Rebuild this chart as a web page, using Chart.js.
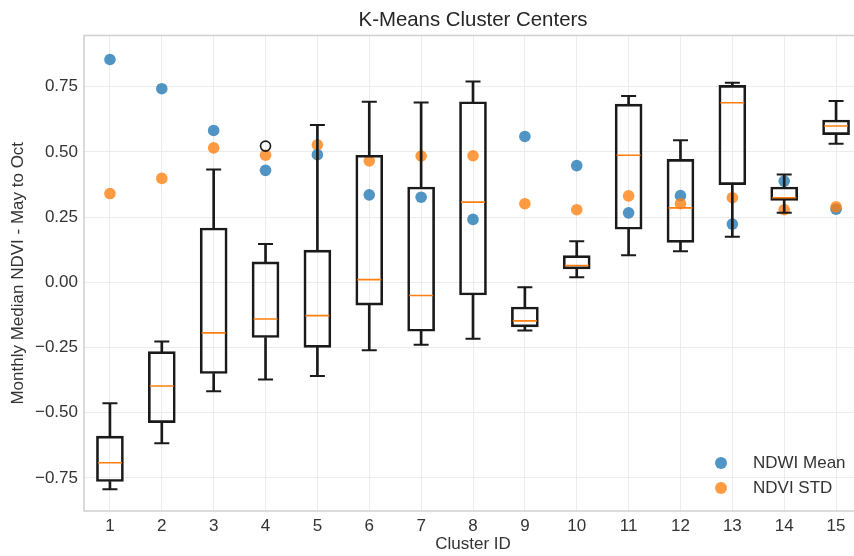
<!DOCTYPE html>
<html>
<head>
<meta charset="utf-8">
<title>K-Means Cluster Centers</title>
<script src="https://cdn.jsdelivr.net/npm/chart.js@4.4.1/dist/chart.umd.min.js"></script>
<style>
  html, body { margin: 0; padding: 0; background: #fff; overflow: hidden; }
  #cluster-chart { display: block; }
</style>
</head>
<body>
<canvas id="cluster-chart" width="870" height="556"></canvas>
<script>
  // cluster ids and y tick values
  var clusterIds = [1, 2, 3, 4, 5, 6, 7, 8, 9, 10, 11, 12, 13, 14, 15];
  var yTickValues = [-0.75, -0.5, -0.25, 0, 0.25, 0.5, 0.75];

  // cluster center points
  var ndwiMean = [0.854, 0.742, 0.582, 0.429, 0.489, 0.335, 0.326, 0.241, 0.559, 0.447, 0.266, 0.332, 0.223, 0.388, 0.280];
  var ndviStd  = [0.340, 0.398, 0.515, 0.487, 0.527, 0.465, 0.484, 0.485, 0.301, 0.278, 0.331, 0.301, 0.324, 0.278, 0.289];

  // box plot stats of monthly median NDVI
  var whiskerLow  = [-0.794, -0.617, -0.418, -0.373, -0.359, -0.261, -0.240, -0.217, -0.185, 0.019, 0.103, 0.119, 0.174, 0.266, 0.531];
  var q1          = [-0.764, -0.538, -0.350, -0.212, -0.250, -0.088, -0.188, -0.049, -0.171, 0.051, 0.203, 0.153, 0.374, 0.314, 0.566];
  var median      = [-0.692, -0.398, -0.194, -0.141, -0.128, 0.010, -0.051, 0.307, -0.148, 0.064, 0.487, 0.285, 0.688, 0.324, 0.599];
  var q3          = [-0.590, -0.266, 0.208, 0.078, 0.123, 0.487, 0.365, 0.692, -0.095, 0.102, 0.683, 0.471, 0.755, 0.365, 0.622];
  var whiskerHigh = [-0.464, -0.227, 0.432, 0.147, 0.603, 0.692, 0.689, 0.770, -0.019, 0.157, 0.714, 0.544, 0.765, 0.413, 0.695];

  // fliers
  var outlierCluster = [4];
  var outlierValue = [0.522];

  var legendLabels = ['NDWI Mean', 'NDVI STD'];

  var BLUE = 'rgba(31, 119, 180, 0.78)';
  var ORANGE = 'rgba(255, 127, 14, 0.78)';
  var INK = '#1a1a1a';
  var TEXT = '#333333';
  var FONT = "'Liberation Sans', Arial, sans-serif";

  function points(xs, ys) {
    return xs.map(function (x, i) { return { x: x, y: ys[i] }; });
  }
  function spans(lo, hi) {
    return clusterIds.map(function (x, i) { return { x: x, y: [lo[i], hi[i]] }; });
  }
  function fmt(v) {
    return v.toFixed(2).replace('-', '\u2212');
  }

  // frame round the plot area
  var frame = {
    id: 'frame',
    afterDatasetsDraw: function (chart) {
      var a = chart.chartArea, ctx = chart.ctx;
      ctx.save();
      ctx.strokeStyle = '#d2d2d2';
      ctx.lineWidth = 1.6;
      ctx.strokeRect(a.left, a.top, a.right - a.left, a.bottom - a.top);
      ctx.restore();
    }
  };

  // legend in the lower right corner
  var cornerLegend = {
    id: 'cornerLegend',
    afterDraw: function (chart) {
      var a = chart.chartArea, ctx = chart.ctx;
      ctx.save();
      ctx.font = '17px ' + FONT;
      ctx.textBaseline = 'middle';
      chart.data.datasets.forEach(function (ds) {
        var i = legendLabels.indexOf(ds.label);
        if (i < 0) return;
        var y = a.bottom - 48 + i * 25;
        ctx.beginPath();
        ctx.fillStyle = ds.backgroundColor;
        ctx.arc(a.right - 141, y, 6, 0, Math.PI * 2);
        ctx.fill();
        ctx.fillStyle = TEXT;
        ctx.fillText(ds.label, a.right - 109, y);
      });
      ctx.restore();
    }
  };

  Chart.defaults.font.family = FONT;
  Chart.defaults.font.size = 17;
  Chart.defaults.color = TEXT;

  var boxBar = { grouped: false, barPercentage: 1, categoryPercentage: 1 };

  new Chart(document.getElementById('cluster-chart').getContext('2d'), {
    type: 'bar',
    data: {
      datasets: [
        {
          type: 'scatter', label: 'NDWI Mean', data: points(clusterIds, ndwiMean),
          backgroundColor: BLUE, borderWidth: 0, pointRadius: 5.8, order: 10
        },
        {
          type: 'scatter', label: 'NDVI STD', data: points(clusterIds, ndviStd),
          backgroundColor: ORANGE, borderWidth: 0, pointRadius: 5.8, order: 9
        },
        Object.assign({
          label: 'box', data: spans(q1, q3), backgroundColor: 'rgba(0,0,0,0)',
          borderColor: INK, borderWidth: 2, borderSkipped: false, maxBarThickness: 27, order: 3
        }, boxBar),
        Object.assign({
          label: 'upper whisker', data: spans(q3, whiskerHigh), backgroundColor: INK,
          borderWidth: 0, maxBarThickness: 2, order: 4
        }, boxBar),
        Object.assign({
          label: 'lower whisker', data: spans(whiskerLow, q1), backgroundColor: INK,
          borderWidth: 0, maxBarThickness: 2, order: 4
        }, boxBar),
        {
          type: 'scatter', label: 'caps',
          data: points(clusterIds, whiskerHigh).concat(points(clusterIds, whiskerLow)),
          pointStyle: 'line', pointRadius: 7.5, borderColor: INK, borderWidth: 2, order: 2
        },
        {
          type: 'scatter', label: 'median', data: points(clusterIds, median),
          pointStyle: 'line', pointRadius: 12, borderColor: '#ff7f0e', borderWidth: 1.6, order: 1
        },
        {
          type: 'scatter', label: 'outliers', data: points(outlierCluster, outlierValue),
          pointStyle: 'circle', pointRadius: 5, backgroundColor: 'rgba(0,0,0,0)',
          borderColor: INK, borderWidth: 1.6, order: 0
        }
      ]
    },
    options: {
      responsive: false,
      animation: false,
      events: [],
      layout: { autoPadding: false, padding: { left: 0, right: 8, top: 0, bottom: 0 } },
      plugins: {
        legend: { display: false },
        tooltip: { enabled: false },
        title: {
          display: true,
          text: 'K-Means Cluster Centers',
          fullSize: false,
          color: '#262626',
          font: { size: 20.4, weight: 'normal' },
          padding: { top: 8, bottom: 3 }
        }
      },
      scales: {
        x: {
          type: 'linear',
          min: 0.5,
          max: 15.5,
          offset: false,
          afterBuildTicks: function (scale) {
            scale.ticks = clusterIds.map(function (v) { return { value: v }; });
          },
          afterFit: function (scale) {
            scale.height = 45;
            scale.paddingLeft = 0;
            scale.paddingRight = 0;
          },
          ticks: { padding: 5, callback: function (v) { return String(v); } },
          grid: { color: '#ececec', drawTicks: false, offset: false },
          border: { display: false },
          title: { display: true, text: 'Cluster ID', padding: { top: 0, bottom: 1 } }
        },
        y: {
          type: 'linear',
          min: -0.877,
          max: 0.946,
          afterBuildTicks: function (scale) {
            scale.ticks = yTickValues.map(function (v) { return { value: v }; });
          },
          afterFit: function (scale) {
            scale.width = 84;
            scale.paddingTop = 0;
            scale.paddingBottom = 0;
          },
          ticks: { padding: 6, callback: function (v) { return fmt(v); } },
          grid: { color: '#ececec', drawTicks: false },
          border: { display: false },
          title: { display: true, text: 'Monthly Median NDVI - May to Oct', padding: { top: 8, bottom: 0 } }
        }
      }
    },
    plugins: [frame, cornerLegend]
  });
</script>
</body>
</html>
